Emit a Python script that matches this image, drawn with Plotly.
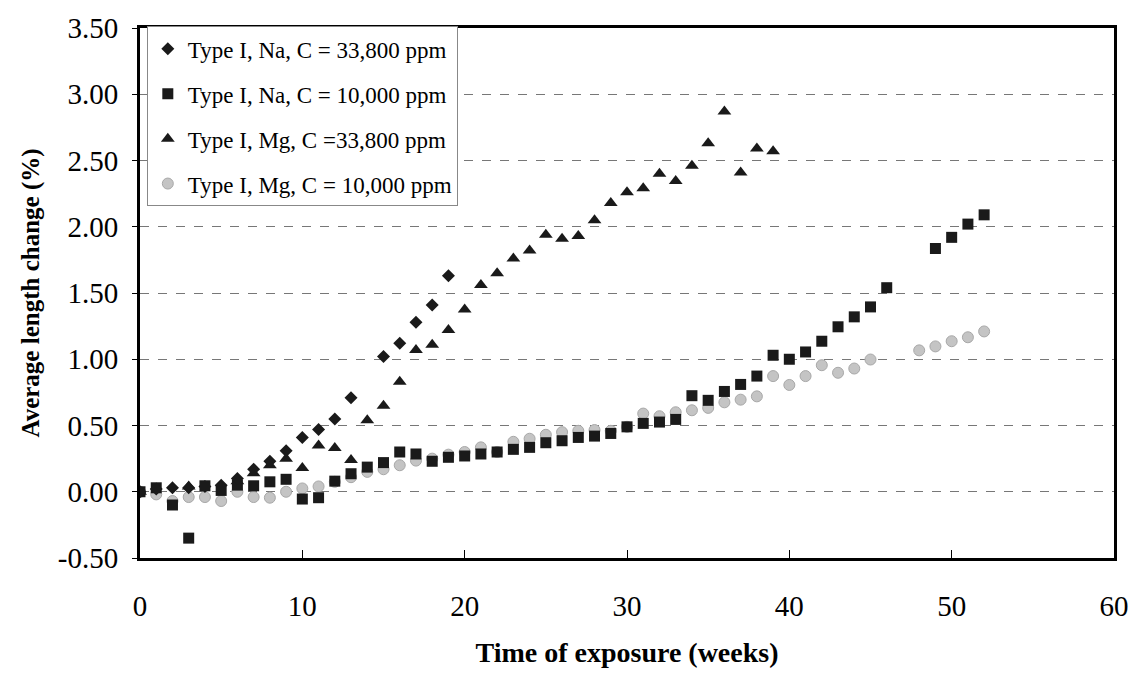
import plotly.graph_objects as go

# ---- data (weeks, % length change) ----
na_hi_weeks = [0, 1, 2, 3, 4, 5, 6, 7, 8, 9, 10, 11, 12, 13, 15, 16, 17, 18, 19]
na_hi_vals = [0.00, 0.02, 0.03, 0.03, 0.04, 0.05, 0.10, 0.17, 0.23, 0.31, 0.41, 0.47, 0.55, 0.71,
              1.02, 1.12, 1.28, 1.41, 1.63]

na_lo_weeks = [0, 1, 2, 3, 4, 5, 6, 7, 8, 9, 10, 11, 12, 13, 14, 15, 16, 17, 18, 19, 20,
               21, 22, 23, 24, 25, 26, 27, 28, 29, 30, 31, 32, 33, 34, 35, 36, 37, 38, 39, 40,
               41, 42, 43, 44, 45, 46, 49, 50, 51, 52]
na_lo_vals = [0.00, 0.03, -0.10, -0.35, 0.045, 0.01, 0.05, 0.045, 0.075, 0.094, -0.055, -0.045,
              0.08, 0.136, 0.186, 0.22, 0.30, 0.285, 0.23, 0.26, 0.27,
              0.285, 0.30, 0.32, 0.335, 0.37, 0.385, 0.41, 0.42, 0.44, 0.49,
              0.516, 0.526, 0.546, 0.725, 0.69, 0.757, 0.81, 0.873, 1.03, 1.00,
              1.055, 1.136, 1.245, 1.32, 1.395, 1.54, 1.836, 1.92, 2.02, 2.09]

mg_hi_weeks = [0, 3, 6, 7, 8, 9, 10, 11, 12, 13, 14, 15, 16, 17, 18, 19, 20, 21, 22, 23, 24,
               25, 26, 27, 28, 29, 30, 31, 32, 33, 34, 35, 36, 37, 38, 39]
mg_hi_vals = [0.00, 0.04, 0.08, 0.14, 0.20, 0.25, 0.18, 0.35, 0.33, 0.24, 0.54, 0.65, 0.83,
              1.07, 1.11, 1.22, 1.375, 1.56, 1.65, 1.76, 1.82, 1.94, 1.91, 1.93, 2.05, 2.18,
              2.26, 2.29, 2.40, 2.345, 2.46, 2.63, 2.87, 2.41, 2.59, 2.57]

mg_lo_weeks = [0, 1, 2, 3, 4, 5, 6, 7, 8, 9, 10, 11, 12, 13, 14, 15, 16, 17, 18, 19, 20,
               21, 22, 23, 24, 25, 26, 27, 28, 29, 30, 31, 32, 33, 34, 35, 36, 37, 38, 39, 40,
               41, 42, 43, 44, 45, 48, 49, 50, 51, 52]
mg_lo_vals = [0.00, -0.02, -0.07, -0.04, -0.04, -0.07, 0.00, -0.04, -0.045, 0.00, 0.025, 0.04,
              0.075, 0.11, 0.15, 0.17, 0.20, 0.235, 0.25, 0.28, 0.30,
              0.335, 0.30, 0.377, 0.40, 0.43, 0.45, 0.46, 0.466, 0.46, 0.49,
              0.59, 0.57, 0.60, 0.615, 0.633, 0.675, 0.695, 0.72, 0.873, 0.806,
              0.873, 0.955, 0.898, 0.93, 0.998, 1.067, 1.097, 1.136, 1.166, 1.21]

series_names = ["Type I, Na, C = 33,800 ppm", "Type I, Na, C = 10,000 ppm",
                "Type I, Mg, C =33,800 ppm", "Type I, Mg, C = 10,000 ppm"]

x_ticks = [0, 10, 20, 30, 40, 50, 60]
y_ticks = [-0.5, 0.0, 0.5, 1.0, 1.5, 2.0, 2.5, 3.0, 3.5]
y_tick_labels = ["-0.50", "0.00", "0.50", "1.00", "1.50", "2.00", "2.50", "3.00", "3.50"]

FONT = "Liberation Serif, Times New Roman, serif"

fig = go.Figure()
fig.add_trace(go.Scatter(x=mg_lo_weeks, y=mg_lo_vals, mode="markers", name=series_names[3],
                         legendgroup="d", legendrank=4,
                         marker=dict(symbol="circle", size=11, color="#c4c4c4",
                                     line=dict(color="#a8a8a8", width=1))))
fig.add_trace(go.Scatter(x=mg_hi_weeks, y=mg_hi_vals, mode="markers", name=series_names[2],
                         legendgroup="c", legendrank=3,
                         marker=dict(symbol="triangle-up", size=12, color="#1a1a1a")))
fig.add_trace(go.Scatter(x=na_lo_weeks, y=na_lo_vals, mode="markers", name=series_names[1],
                         legendgroup="b", legendrank=2,
                         marker=dict(symbol="square", size=11, color="#1a1a1a")))
fig.add_trace(go.Scatter(x=na_hi_weeks, y=na_hi_vals, mode="markers", name=series_names[0],
                         legendgroup="a", legendrank=1,
                         marker=dict(symbol="diamond", size=10, color="#1a1a1a")))

fig.update_layout(
    width=1141, height=675,
    margin=dict(l=140, r=17, t=20, b=117),
    paper_bgcolor="white", plot_bgcolor="white",
    font=dict(family=FONT, color="black", size=29),
    showlegend=True,
    legend=dict(x=0.007, y=1.003, xanchor="left", yanchor="top",
                bgcolor="white", bordercolor="#888888", borderwidth=1,
                font=dict(family=FONT, size=23, color="black"),
                tracegroupgap=12, traceorder="grouped", itemsizing="trace"),
    xaxis=dict(range=[0, 60], tickvals=x_ticks, showgrid=False, zeroline=False,
               showline=True, linecolor="black", linewidth=3, mirror=True,
               ticks="inside", ticklen=8, tickcolor="black", tickwidth=1,
               ticklabelstandoff=20,
               tickfont=dict(family=FONT, size=29),
               title=dict(text="<b>Time of exposure (weeks)</b>", standoff=22,
                          font=dict(family=FONT, size=28))),
    yaxis=dict(range=[-0.5, 3.5], tickvals=y_ticks, ticktext=y_tick_labels,
               showgrid=True, gridcolor="#777777", griddash="dash", gridwidth=1,
               zeroline=False,
               showline=True, linecolor="black", linewidth=3, mirror=True,
               ticks="outside", ticklen=5, tickcolor="black", tickwidth=1,
               ticklabelstandoff=8,
               tickfont=dict(family=FONT, size=29),
               title=dict(text="<b>Average length change (%)</b>", standoff=12,
                          font=dict(family=FONT, size=25))),
)

fig.write_html("out.html")
